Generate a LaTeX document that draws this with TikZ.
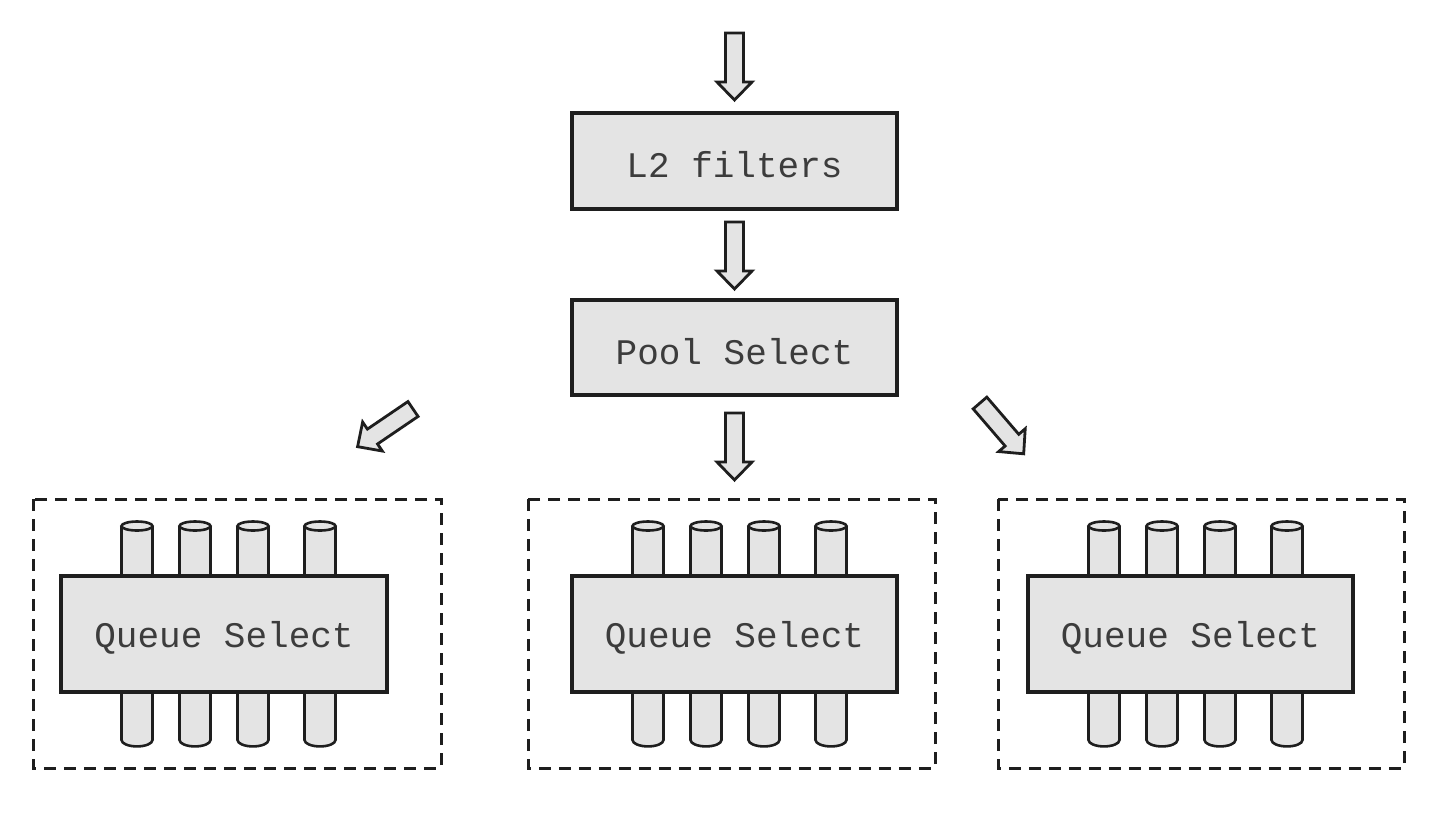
\documentclass[tikz,border=0pt]{standalone}
\usepackage{fontspec}
\newfontfamily\monofont{Liberation Mono}
\definecolor{boxfill}{HTML}{E4E4E4}
\definecolor{edge}{HTML}{1E1E1E}
\definecolor{txt}{HTML}{3C3C3C}
\tikzset{
  procbox/.style={draw=edge, fill=boxfill, line width=1.7pt, inner sep=0pt,
    font=\monofont\fontsize{18}{20}\selectfont, text=txt},
  groupbox/.style={draw=edge, line width=1.5pt, dash pattern=on 6pt off 4pt},
  cyl/.style={draw=edge, fill=boxfill, line width=1.3pt},
  arrowsty/.style={draw=edge, fill=boxfill, line width=1.4pt, line join=miter},
  blockarrow/.pic={
    \draw[arrowsty] (0pt,-4.5pt) -- (24.5pt,-4.5pt) -- (24.5pt,-8.75pt) -- (33.5pt,0pt)
      -- (24.5pt,8.75pt) -- (24.5pt,4.5pt) -- (0pt,4.5pt) -- cycle;
  }
}
\newcommand\lowtext[1]{\raisebox{-2pt}[\height][\depth]{#1}}
\newcommand\cylpair[1]{%
  % top cylinder
  \fill[boxfill] (#1-15.5,576) -- (#1-15.5,526) -- (#1+15.5,526) -- (#1+15.5,576) -- cycle;
  \draw[cyl, fill=none] (#1-15.5,576) -- (#1-15.5,526) (#1+15.5,526) -- (#1+15.5,576);
  \draw[cyl] (#1,526) ellipse [x radius=7.75pt, y radius=2.25pt];
  % bottom cylinder
  \draw[cyl] (#1-15.5,692) -- (#1-15.5,740) arc[start angle=180, end angle=360, x radius=7.75pt, y radius=3.2pt] -- (#1+15.5,692);
}
\begin{document}
\begin{tikzpicture}[x=0.5pt, y=-0.5pt]
\useasboundingbox[fill=white] (0,0) rectangle (1452,832);

% top boxes
\node[procbox, minimum width=162.5pt, minimum height=48pt] (l2) at (734.5,161) {\lowtext{L2 filters}};
\node[procbox, minimum width=162.5pt, minimum height=47.5pt] (pool) at (734.5,347.5) {\lowtext{Pool Select}};

% group boxes
\draw[groupbox] (33,499) rectangle (441,768) coordinate (g1);
\draw[groupbox] (528,499) rectangle (935,768) coordinate (g2);
\draw[groupbox] (998,499) rectangle (1404,768) coordinate (g3);

% cylinders
\foreach \L in {61,572,1028}{
  \foreach \o in {76,134,192,259}{
    \pgfmathsetmacro\cx{\L+\o}
    \cylpair{\cx}
  }
}

% queue select boxes
\node[procbox, minimum width=163pt, minimum height=58pt] (q1) at (224,634) {\lowtext{Queue Select}};
\node[procbox, minimum width=162.5pt, minimum height=58pt] (q2) at (734.5,634) {\lowtext{Queue Select}};
\node[procbox, minimum width=162.5pt, minimum height=58pt] (q3) at (1190.5,634) {\lowtext{Queue Select}};

% block arrows
\pic[rotate=-90] at (734.5,33) {blockarrow};
\pic[rotate=-90] at (734.5,222) {blockarrow};
\pic[rotate=-90] at (734.5,413) {blockarrow};
\pic[rotate=-145.8] at (413,409) {blockarrow};
\pic[rotate=-49.3] at (980,403) {blockarrow};
\end{tikzpicture}
\end{document}
